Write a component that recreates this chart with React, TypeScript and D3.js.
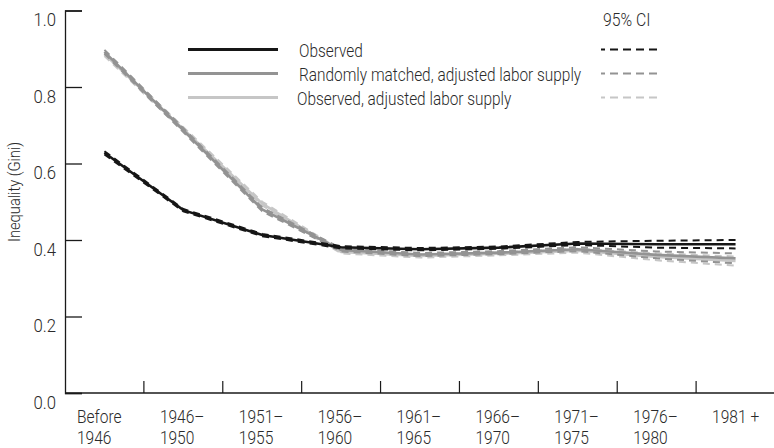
import { useEffect, useRef } from "react";
import * as d3 from "d3";

const categories = [
  ["Before", "1946"],
  ["1946–", "1950"],
  ["1951–", "1955"],
  ["1956–", "1960"],
  ["1961–", "1965"],
  ["1966–", "1970"],
  ["1971–", "1975"],
  ["1976–", "1980"],
  ["1981 +"],
];

const observed = [0.628, 0.478, 0.413, 0.381, 0.376, 0.38, 0.391, 0.389, 0.389];
const observedLo = [0.624, 0.475, 0.41, 0.378, 0.373, 0.377, 0.387, 0.38, 0.378];
const observedHi = [0.632, 0.481, 0.416, 0.384, 0.379, 0.383, 0.395, 0.398, 0.4];

const randomMatched = [0.892, 0.687, 0.48, 0.374, 0.362, 0.367, 0.376, 0.361, 0.352];
const randomMatchedLo = [0.887, 0.682, 0.475, 0.37, 0.358, 0.363, 0.371, 0.352, 0.339];
const randomMatchedHi = [0.897, 0.692, 0.485, 0.378, 0.366, 0.371, 0.381, 0.37, 0.365];

const observedAdj = [0.886, 0.69, 0.495, 0.369, 0.358, 0.364, 0.372, 0.356, 0.345];
const observedAdjLo = [0.881, 0.685, 0.49, 0.365, 0.354, 0.36, 0.367, 0.347, 0.333];
const observedAdjHi = [0.891, 0.695, 0.5, 0.373, 0.362, 0.368, 0.377, 0.365, 0.357];

const yTicks = [0, 0.2, 0.4, 0.6, 0.8, 1.0];

const seriesNames = [
  "Observed",
  "Randomly matched, adjusted labor supply",
  "Observed, adjusted labor supply",
];
const colors = ["#161616", "#939393", "#c6c6c6"];

const FONT = "Roboto, 'Open Sans', sans-serif";

// squeeze text horizontally so it looks like the narrow face of the original
function condense(sel: d3.Selection<any, any, any, any>, factor: number) {
  sel.each(function () {
    const node = this as SVGTextElement;
    const len = node.getComputedTextLength();
    d3.select(node)
      .attr("textLength", len * factor)
      .attr("lengthAdjust", "spacingAndGlyphs");
  });
}

export default function App() {
  const ref = useRef<SVGSVGElement>(null);

  useEffect(() => {
    const svg = d3.select(ref.current);
    svg.selectAll("*").remove();

    const width = 774;
    const height = 448;
    const left = 65;
    const right = 775;
    const top = 10.5;
    const bottom = 393;

    const keys = categories.map((c) => c.join(" "));

    const x = d3.scaleBand().domain(keys).range([left, right]);
    const y = d3.scaleLinear().domain([0, 1]).range([bottom, top]);

    const g = svg
      .append("g")
      .style("font-family", FONT)
      .style("font-weight", 300)
      .attr("fill", "#2a2a2a");

    // y axis
    const yAxis = g
      .append("g")
      .attr("transform", `translate(${left},0)`)
      .call(d3.axisLeft(y).tickValues(yTicks).tickSize(-17).tickPadding(9).tickFormat(d3.format(".1f")));
    yAxis.select(".domain").attr("stroke", "#1a1a1a").attr("stroke-width", 1.3);
    yAxis.selectAll(".tick line").attr("stroke", "#1a1a1a").attr("stroke-width", 1.3);
    const yLabels = yAxis
      .selectAll(".tick text")
      .attr("dy", 15)
      .style("font-size", "18px")
      .style("font-family", FONT)
      .attr("fill", "#2a2a2a");
    condense(yLabels, 0.93);

    const title = g
      .append("text")
      .attr("transform", `translate(20,192) rotate(-90)`)
      .attr("text-anchor", "middle")
      .style("font-size", "16px")
      .text("Inequality (Gini)");
    condense(title, 0.92);

    // x axis
    g.append("line")
      .attr("x1", left)
      .attr("x2", width)
      .attr("y1", bottom)
      .attr("y2", bottom)
      .attr("stroke", "#1a1a1a")
      .attr("stroke-width", 1.3);

    g.append("g")
      .selectAll("line")
      .data(keys.slice(1))
      .join("line")
      .attr("x1", (d) => x(d)!)
      .attr("x2", (d) => x(d)!)
      .attr("y1", bottom)
      .attr("y2", bottom - 12)
      .attr("stroke", "#1a1a1a")
      .attr("stroke-width", 1.2);

    const xLabelRows = categories.flatMap((c, i) => c.map((s, j) => ({ s, i, j })));
    const xLabels = g
      .append("g")
      .selectAll("text")
      .data(xLabelRows)
      .join("text")
      .attr("text-anchor", "start")
      .style("font-size", "18.5px")
      .attr("x", (d) => x(keys[d.i])! + (d.i === 0 ? 12 : 16))
      .attr("y", (d) => 422.5 + d.j * 21)
      .text((d) => d.s);
    condense(xLabels, 0.84);

    // lines
    const line = d3
      .line<number>()
      .x((d, i) => x(keys[i])! + x.bandwidth() / 2)
      .y((d) => y(d));

    const series = [
      { mid: observedAdj, lo: observedAdjLo, hi: observedAdjHi, color: colors[2] },
      { mid: randomMatched, lo: randomMatchedLo, hi: randomMatchedHi, color: colors[1] },
      { mid: observed, lo: observedLo, hi: observedHi, color: colors[0] },
    ];

    series.forEach((s) => {
      g.append("path")
        .attr("d", line(s.mid))
        .attr("fill", "none")
        .attr("stroke", s.color)
        .attr("stroke-width", 2.6);
      [s.lo, s.hi].forEach((ci) => {
        g.append("path")
          .attr("d", line(ci))
          .attr("fill", "none")
          .attr("stroke", s.color)
          .attr("stroke-width", 2)
          .attr("stroke-dasharray", "7,5");
      });
    });

    // legend
    const legend = g.append("g");
    const rowY = [49.5, 73.5, 97.5];
    seriesNames.forEach((name, i) => {
      legend
        .append("line")
        .attr("x1", 188)
        .attr("x2", 278)
        .attr("y1", rowY[i])
        .attr("y2", rowY[i])
        .attr("stroke", colors[i])
        .attr("stroke-width", 3);
      const t = legend
        .append("text")
        .attr("x", i === 2 ? 297 : 299)
        .attr("y", rowY[i] + 7.5)
        .style("font-size", "17.5px")
        .text(name);
      condense(t, 0.88);
      legend
        .append("line")
        .attr("x1", 601)
        .attr("x2", 662)
        .attr("y1", rowY[i])
        .attr("y2", rowY[i])
        .attr("stroke", colors[i])
        .attr("stroke-width", 2)
        .attr("stroke-dasharray", "4,5,8,5,8,5,8,5,8,5");
    });
    const ci = legend
      .append("text")
      .attr("x", 603)
      .attr("y", 26)
      .style("font-size", "17.5px")
      .text("95% CI");
    condense(ci, 0.9);

    svg.attr("width", width).attr("height", height).attr("viewBox", [0, 0, width, height]);
  }, []);

  return (
    <svg
      ref={ref}
      width={774}
      height={448}
      style={{ position: "absolute", left: 0, top: 0, background: "#fff" }}
    />
  );
}
